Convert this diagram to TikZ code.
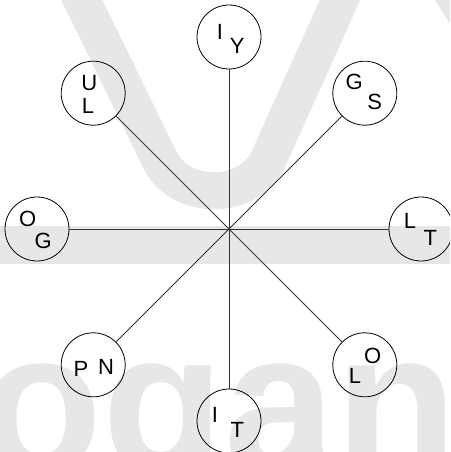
\documentclass[tikz,border=0pt]{standalone}
\usepackage{fontspec}
\setmainfont{Liberation Sans}
\definecolor{wmgray}{RGB}{231,231,231}
\begin{document}
\begin{tikzpicture}[x=1pt,y=-1pt,
  hub/.style={circle, draw=black, line width=0.8pt, minimum size=64pt, inner sep=0pt},
  spoke/.style={draw=black!80, line width=0.8pt},
  lbl/.style={inner sep=0pt, text height=15.7pt, text depth=0pt, font=\fontsize{22}{22}\selectfont}]
\useasboundingbox (0,0) rectangle (450,452);
\clip (0,0) rectangle (450,452);
% watermark
\draw[draw=wmgray, line width=37pt, line join=round] (72,-20) -- (160,160) .. controls (180,201) and (248,201) .. (268,160) -- (349,-20);
\fill[wmgray] (435,0) -- (460,0) -- (460,40) -- cycle;
\fill[wmgray] (-5,226) rectangle (455,264);
\node[text=wmgray, anchor=base west, inner sep=0pt, font=\fontsize{200}{200}\selectfont\bfseries] (wmtext) at (-20,471) {ogan};
% hub and circles
\coordinate (c) at (229,229);
\node[hub] (n) at (229,37) {};
\node[hub] (ne) at (364.8,93.2) {};
\node[hub] (e) at (421,229) {};
\node[hub] (se) at (364.8,364.8) {};
\node[hub] (s) at (229,421) {};
\node[hub] (sw) at (93.2,364.8) {};
\node[hub] (w) at (37,229) {};
\node[hub] (nw) at (93.2,93.2) {};
\foreach \k in {n,ne,e,se,s,sw,w,nw} \draw[spoke] (c) -- (\k);
% labels
\node[lbl] (n1) at (220,31.7) {I};
\node[lbl] (n2) at (237.3,46) {Y};
\node[lbl] (nw1) at (89.3,82.3) {U};
\node[lbl] (nw2) at (88,106) {L};
\node[lbl] (ne1) at (354.3,81.7) {G};
\node[lbl] (ne2) at (374.7,101.3) {S};
\node[lbl] (w1) at (27.7,218.3) {O};
\node[lbl] (w2) at (43.3,240.7) {G};
\node[lbl] (e1) at (410,220.7) {L};
\node[lbl] (e2) at (430.3,237.3) {T};
\node[lbl] (sw1) at (81,368.3) {P};
\node[lbl] (sw2) at (106,366.7) {N};
\node[lbl] (se1) at (372.7,355.7) {O};
\node[lbl] (se2) at (355,376) {L};
\node[lbl] (s1) at (215,415) {I};
\node[lbl] (s2) at (237.3,429.3) {T};
\end{tikzpicture}
\end{document}
